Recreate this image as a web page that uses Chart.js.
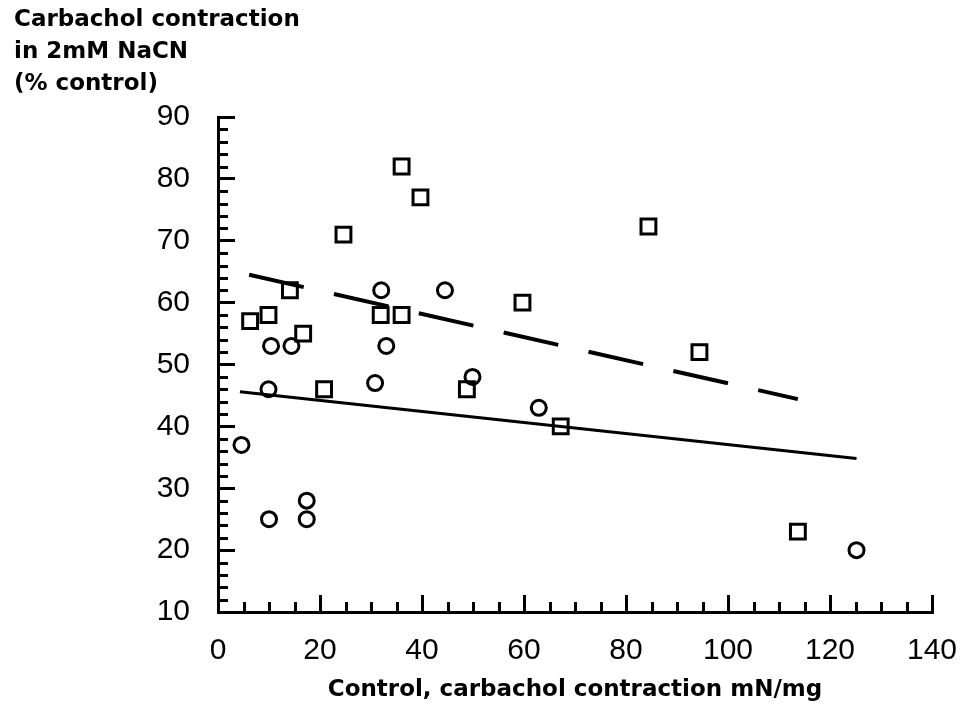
<!DOCTYPE html>
<html>
<head>
<meta charset="utf-8">
<script src="https://cdn.jsdelivr.net/npm/chart.js@4.4.1/dist/chart.umd.min.js"></script>
<style>
html, body { margin: 0; padding: 0; background: #ffffff; }
#wrap { width: 961px; height: 707px; }
</style>
</head>
<body>
<div id="wrap"><canvas id="chart" width="961" height="707"></canvas></div>
<script>
// ---- data ----
const squareX = [6.3, 9.9, 14.1, 16.7, 20.8, 24.6, 31.9, 36.0, 36.0, 39.7, 48.8, 59.7, 67.2, 84.4, 94.4, 113.7];
const squareY = [57, 58, 62, 55, 46, 71, 58, 58, 82, 77, 46, 60, 40, 72.3, 52, 23];

const circleX = [4.6, 9.9, 10.0, 10.4, 14.4, 17.4, 17.4, 30.8, 32.0, 33.0, 44.5, 49.9, 62.9, 125.2];
const circleY = [37, 46, 25, 53, 53, 28, 25, 47, 62, 53, 62, 48, 43, 20];

const solidLineX = [4.3, 125.2];
const solidLineY = [45.6, 34.8];

const dashedLineX = [6.1, 113.7];
const dashedLineY = [64.5, 44.4];

const yTickValues = [10, 20, 30, 40, 50, 60, 70, 80, 90];
const xTickValues = [0, 20, 40, 60, 80, 100, 120, 140];

const titleLines = ['Carbachol contraction', 'in 2mM NaCN', '(% control)'];
const xTitle = 'Control, carbachol contraction mN/mg';

// ---- helpers ----
function toPoints(xs, ys) { return xs.map((x, i) => ({ x: x, y: ys[i] })); }

const minorTicks = {
  id: 'minorTicks',
  afterDraw(chart) {
    const ctx = chart.ctx;
    const xs = chart.scales.x, ys = chart.scales.y;
    const area = chart.chartArea;
    ctx.save();
    ctx.strokeStyle = '#000';
    ctx.lineWidth = 3;
    ctx.beginPath();
    for (let v = ys.min; v <= ys.max; v += 2) {
      if (v % 10 === 0) continue;
      const py = Math.round(ys.getPixelForValue(v)) + 0.5;
      ctx.moveTo(area.left, py);
      ctx.lineTo(area.left + 10, py);
    }
    for (let v = xs.min; v <= xs.max; v += 5) {
      if (v % 20 === 0) continue;
      const px = Math.round(xs.getPixelForValue(v)) + 0.5;
      ctx.moveTo(px, area.bottom);
      ctx.lineTo(px, area.bottom - 10);
    }
    ctx.stroke();
    ctx.restore();
  }
};

const tickFont = { family: '"Liberation Sans", Arial, sans-serif', size: 30 };
const boldFont = { family: '"DejaVu Sans", sans-serif', size: 23, weight: 'bold' };

new Chart(document.getElementById('chart'), {
  type: 'scatter',
  data: {
    datasets: [
      {
        label: 'squares',
        data: toPoints(squareX, squareY),
        pointStyle: 'rect',
        pointRadius: 10.5,
        borderWidth: 3,
        borderColor: '#000',
        backgroundColor: 'rgba(0,0,0,0)'
      },
      {
        label: 'circles',
        data: toPoints(circleX, circleY),
        pointStyle: 'circle',
        pointRadius: 7.5,
        borderWidth: 3,
        borderColor: '#000',
        backgroundColor: 'rgba(0,0,0,0)'
      },
      {
        type: 'line',
        label: 'solid fit',
        data: toPoints(solidLineX, solidLineY),
        borderColor: '#000',
        borderWidth: 3,
        pointRadius: 0,
        fill: false
      },
      {
        type: 'line',
        label: 'dashed fit',
        data: toPoints(dashedLineX, dashedLineY),
        borderColor: '#000',
        borderWidth: 4,
        borderDash: [56, 31],
        pointRadius: 0,
        fill: false
      }
    ]
  },
  options: {
    responsive: false,
    animation: false,
    devicePixelRatio: 1,
    layout: { padding: { left: 14, right: 29, top: 0, bottom: 0 } },
    plugins: {
      legend: { display: false },
      tooltip: { enabled: false },
      title: {
        display: true,
        text: titleLines,
        align: 'start',
        color: '#000',
        font: Object.assign({}, boldFont, { lineHeight: 32 / 23 }),
        padding: { top: 4, bottom: 17 }
      }
    },
    scales: {
      x: {
        type: 'linear',
        min: 0,
        max: 140,
        afterBuildTicks(scale) { scale.ticks = xTickValues.map(v => ({ value: v })); },
        afterFit(scale) {
          scale.height = 95;
          scale.paddingLeft = 0;
          scale.paddingRight = 0;
        },
        ticks: { color: '#000', font: tickFont, padding: 38, maxRotation: 0 },
        grid: { drawOnChartArea: false, drawTicks: true, tickLength: -17, tickWidth: 3, tickColor: '#000' },
        border: { display: true, color: '#000', width: 3 },
        title: {
          display: true,
          text: xTitle,
          color: '#000',
          font: boldFont,
          padding: { top: 0, bottom: 3 }
        }
      },
      y: {
        type: 'linear',
        min: 10,
        max: 90,
        afterBuildTicks(scale) { scale.ticks = yTickValues.map(v => ({ value: v })); },
        afterFit(scale) {
          scale.width = 204;
          scale.paddingTop = 0;
          scale.paddingBottom = 0;
        },
        ticks: { color: '#000', font: tickFont, padding: 45 },
        grid: { drawOnChartArea: false, drawTicks: true, tickLength: -17, tickWidth: 3, tickColor: '#000' },
        border: { display: true, color: '#000', width: 3 }
      }
    }
  },
  plugins: [minorTicks]
});
</script>
</body>
</html>
